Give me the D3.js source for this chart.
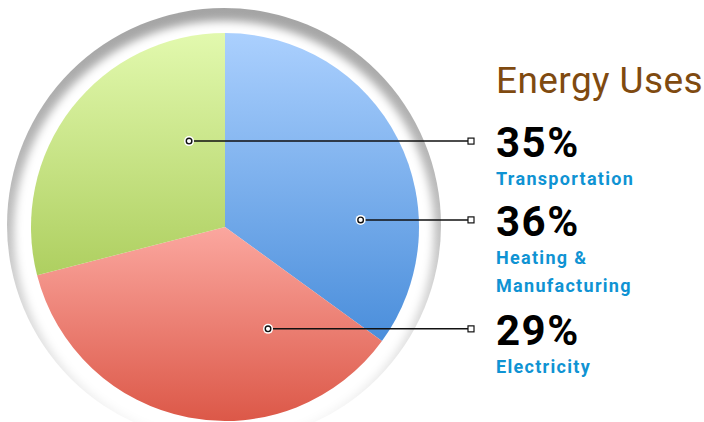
<!DOCTYPE html>
<html>
<head>
<meta charset="utf-8">
<script src="https://cdn.jsdelivr.net/npm/d3@7"></script>
<style>
  body { margin: 0; background: #fff; }
  svg { display: block; }
</style>
</head>
<body>
<script>
// data
var categories = ["Transportation", "Heating & Manufacturing", "Electricity"];
var shares = [35, 36, 29];
var labelLines = [["Transportation"], ["Heating &", "Manufacturing"], ["Electricity"]];
var sliceTop = ["#abd0fe", "#fba79f", "#e2f9ae"];
var sliceBottom = ["#4a8edb", "#dc5848", "#aecf60"];
// where each leader line starts inside the pie (degrees clockwise from 12 o'clock, share of radius)
var anchorAngle = [337.3, 87, 157.1];
var anchorRadius = [0.48, 0.70, 0.57];

var width = 704, height = 422;
var cx = 225, cy = 227, r = 194;

var svg = d3.select("body").append("svg")
    .attr("width", width)
    .attr("height", height);

var defs = svg.append("defs");

defs.append("filter")
    .attr("id", "soft")
    .attr("x", "-20%").attr("y", "-20%")
    .attr("width", "140%").attr("height", "140%")
  .append("feGaussianBlur")
    .attr("stdDeviation", 4);

var rimGrad = defs.append("linearGradient")
    .attr("id", "rimGrad")
    .attr("x1", 0).attr("y1", 0)
    .attr("x2", 0).attr("y2", 1);
rimGrad.append("stop").attr("offset", "0%").attr("stop-color", "#a4a4a4");
rimGrad.append("stop").attr("offset", "50%").attr("stop-color", "#bebebe");
rimGrad.append("stop").attr("offset", "100%").attr("stop-color", "#fbfbfb");

categories.forEach(function(c, i) {
  var g = defs.append("linearGradient")
      .attr("id", "grad" + i)
      .attr("x1", 0).attr("y1", 0)
      .attr("x2", 0).attr("y2", 1);
  g.append("stop").attr("offset", "0%").attr("stop-color", sliceTop[i]);
  g.append("stop").attr("offset", "100%").attr("stop-color", sliceBottom[i]);
});

// the grey rim behind the pie, heavier at the top
var rim = svg.append("g");
rim.append("circle")
    .attr("cx", cx - 1).attr("cy", cy - 2)
    .attr("r", r + 23)
    .attr("fill", "url(#rimGrad)");
rim.append("circle")
    .attr("cx", cx - 1).attr("cy", cy + 4)
    .attr("r", r + 16)
    .attr("fill", "#fff")
    .attr("filter", "url(#soft)");

var pie = d3.pie().sort(null).value(function(d) { return d; });
var arc = d3.arc().innerRadius(0).outerRadius(r);

var g = svg.append("g").attr("transform", "translate(" + cx + "," + cy + ")");

g.selectAll("path.slice")
  .data(pie(shares))
  .enter().append("path")
    .attr("class", "slice")
    .attr("d", arc)
    .attr("fill", function(d, i) { return "url(#grad" + i + ")"; });

// leader lines
var lineEnd = 471;
var anchors = anchorAngle.map(function(a, i) {
  var p = d3.pointRadial(a * Math.PI / 180, anchorRadius[i] * r);
  return {x: cx + p[0], y: cy + p[1]};
});

var leaders = svg.append("g");
leaders.selectAll("line")
  .data(anchors)
  .enter().append("line")
    .attr("x1", function(d) { return d.x; })
    .attr("y1", function(d) { return d.y; })
    .attr("x2", lineEnd)
    .attr("y2", function(d) { return d.y; })
    .attr("stroke", "#111")
    .attr("stroke-width", 1.5);

leaders.selectAll("circle.halo")
  .data(anchors)
  .enter().append("circle")
    .attr("class", "halo")
    .attr("cx", function(d) { return d.x; })
    .attr("cy", function(d) { return d.y; })
    .attr("r", 5)
    .attr("fill", "#fff");

leaders.selectAll("circle.dot")
  .data(anchors)
  .enter().append("circle")
    .attr("class", "dot")
    .attr("cx", function(d) { return d.x; })
    .attr("cy", function(d) { return d.y; })
    .attr("r", 2.8)
    .attr("fill", "#fff")
    .attr("stroke", "#111")
    .attr("stroke-width", 1.4);

leaders.selectAll("rect")
  .data(anchors)
  .enter().append("rect")
    .attr("x", lineEnd - 3)
    .attr("y", function(d) { return d.y - 3; })
    .attr("width", 6)
    .attr("height", 6)
    .attr("fill", "#fff")
    .attr("stroke", "#111")
    .attr("stroke-width", 1.2);

// title and labels
var tx = 496;
svg.append("text")
    .attr("x", tx)
    .attr("y", 93)
    .attr("fill", "#7f4a10")
    .style("font-family", "Roboto, sans-serif")
    .style("font-size", "37px")
    .style("letter-spacing", "0.4px")
    .text("Energy Uses");

var labels = svg.append("g")
    .style("font-family", "Roboto, sans-serif")
    .style("font-weight", "bold");

anchors.forEach(function(a, i) {
  var base = a.y + 16;
  labels.append("text")
      .attr("x", tx)
      .attr("y", base)
      .attr("fill", "#000")
      .style("font-size", "42px")
      .style("letter-spacing", "1.5px")
      .text(shares[i] + "%");
  labelLines[i].forEach(function(t, j) {
    labels.append("text")
        .attr("x", tx)
        .attr("y", base + 28 + j * 28)
        .attr("fill", "#0f93d3")
        .style("font-size", "18px")
        .style("letter-spacing", "1.3px")
        .text(t);
  });
});
</script>
</body>
</html>
